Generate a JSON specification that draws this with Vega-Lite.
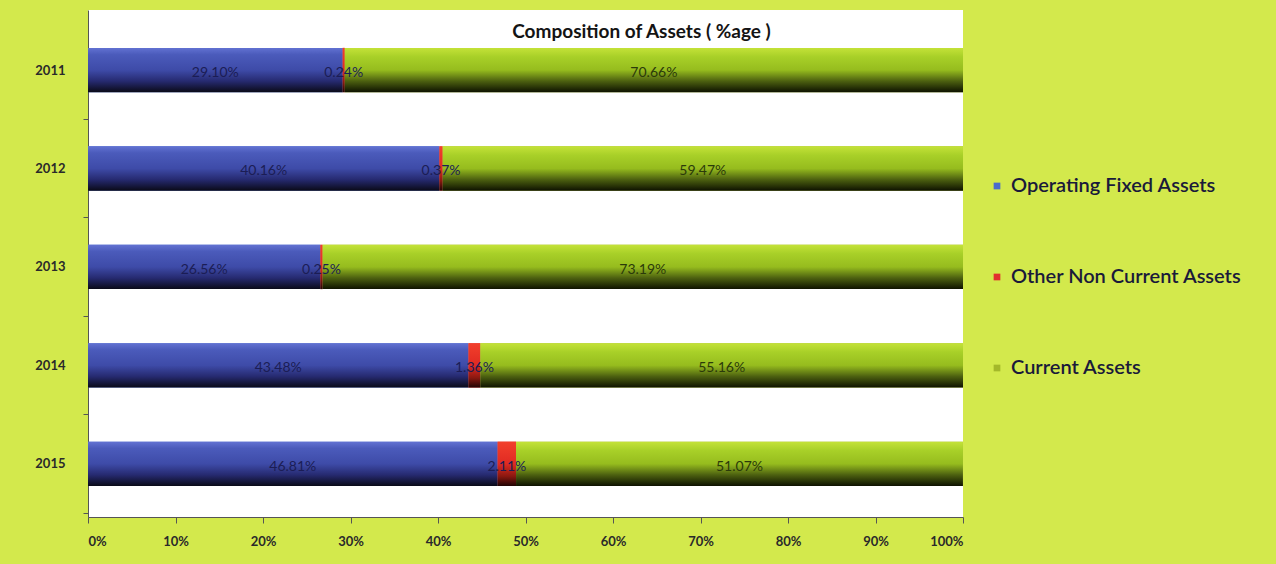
{
  "$schema": "https://vega.github.io/schema/vega-lite/v6.json",
  "width": 875,
  "height": 507,
  "autosize": {"type": "none"},
  "padding": {"left": 88, "top": 10, "right": 313, "bottom": 47},
  "background": "#d3e94c",
  "config": {"view": {"fill": "white", "stroke": null}, "font": "Lato"},
  "title": {
    "text": "Composition of Assets ( %age )",
    "fontSize": 19,
    "font": "Lato",
    "fontWeight": "bold",
    "color": "#141414",
    "anchor": "middle",
    "offset": 0,
    "dx": 116,
    "dy": 32
  },
  "data": {
    "values": [
      {"year": "2011", "series": "Operating Fixed Assets", "order": 1, "value": 29.10},
      {"year": "2011", "series": "Other Non Current Assets", "order": 2, "value": 0.24},
      {"year": "2011", "series": "Current Assets", "order": 3, "value": 70.66},
      {"year": "2012", "series": "Operating Fixed Assets", "order": 1, "value": 40.16},
      {"year": "2012", "series": "Other Non Current Assets", "order": 2, "value": 0.37},
      {"year": "2012", "series": "Current Assets", "order": 3, "value": 59.47},
      {"year": "2013", "series": "Operating Fixed Assets", "order": 1, "value": 26.56},
      {"year": "2013", "series": "Other Non Current Assets", "order": 2, "value": 0.25},
      {"year": "2013", "series": "Current Assets", "order": 3, "value": 73.19},
      {"year": "2014", "series": "Operating Fixed Assets", "order": 1, "value": 43.48},
      {"year": "2014", "series": "Other Non Current Assets", "order": 2, "value": 1.36},
      {"year": "2014", "series": "Current Assets", "order": 3, "value": 55.16},
      {"year": "2015", "series": "Operating Fixed Assets", "order": 1, "value": 46.81},
      {"year": "2015", "series": "Other Non Current Assets", "order": 2, "value": 2.11},
      {"year": "2015", "series": "Current Assets", "order": 3, "value": 51.07}
    ]
  },
  "transform": [
    {"stack": "value", "groupby": ["year"], "sort": [{"field": "order"}], "as": ["x0", "x1"]},
    {"calculate": "(datum.x0 + datum.x1) / 2", "as": "mid"},
    {"calculate": "format(datum.value, '.2f') + '%'", "as": "label"}
  ],
  "encoding": {
    "y": {
      "field": "year",
      "type": "ordinal",
      "scale": {"paddingInner": 0.55, "paddingOuter": 0.35, "align": 0.55},
      "axis": {
        "title": null,
        "labelFontSize": 13,
        "labelFontWeight": "bold",
        "labelColor": "#2a2a2a",
        "labelPadding": 18,
        "tickOffset": 49,
        "labelOffset": -49,
        "tickSize": 5,
        "tickColor": "#555",
        "domainColor": "#555"
      }
    }
  },
  "layer": [
    {
      "mark": {"type": "bar"},
      "encoding": {
        "x": {
          "field": "x0",
          "type": "quantitative",
          "scale": {"domain": [0, 100], "nice": false},
          "axis": {
            "title": null,
            "values": [0, 10, 20, 30, 40, 50, 60, 70, 80, 90, 100],
            "labelExpr": "datum.value + '%'",
            "grid": false,
            "labelFontSize": 13,
            "labelFontWeight": "bold",
            "labelColor": "#2a2a2a",
            "labelPadding": 12,
            "tickSize": 6,
            "tickColor": "#555",
            "domainColor": "#555"
          }
        },
        "x2": {"field": "x1"},
        "color": {
          "field": "series",
          "type": "nominal",
          "scale": {
            "domain": ["Operating Fixed Assets", "Other Non Current Assets", "Current Assets"],
            "range": ["#4a6ccd", "#e2302e", "#a4b82a"]
          },
          "legend": {
            "title": null,
            "orient": "none",
            "legendX": 899,
            "legendY": 166,
            "symbolType": "square",
            "symbolSize": 45,
            "symbolStrokeWidth": 0,
            "labelFontSize": 20,
            "labelFontWeight": 600,
            "labelFont": "Lato",
            "labelColor": "#1a1a3a",
            "labelOffset": 4,
            "rowPadding": 71,
            "labelLimit": 400
          }
        }
      }
    },
    {
      "transform": [{"filter": "datum.series === 'Operating Fixed Assets'"}],
      "mark": {
        "type": "bar",
        "color": {
          "gradient": "linear", "x1": 0, "y1": 0, "x2": 0, "y2": 1,
          "stops": [
            {"offset": 0, "color": "#6272d2"},
            {"offset": 0.15, "color": "#4b5bbb"},
            {"offset": 0.5, "color": "#3e4ba8"},
            {"offset": 0.75, "color": "#262a70"},
            {"offset": 1, "color": "#0a0a18"}
          ]
        }
      },
      "encoding": {
        "x": {"field": "x0", "type": "quantitative"},
        "x2": {"field": "x1"}
      }
    },
    {
      "transform": [{"filter": "datum.series === 'Other Non Current Assets'"}],
      "mark": {
        "type": "bar",
        "color": {
          "gradient": "linear", "x1": 0, "y1": 0, "x2": 0, "y2": 1,
          "stops": [
            {"offset": 0, "color": "#f2402c"},
            {"offset": 0.5, "color": "#e02a22"},
            {"offset": 0.78, "color": "#8a1810"},
            {"offset": 1, "color": "#200404"}
          ]
        }
      },
      "encoding": {
        "x": {"field": "x0", "type": "quantitative"},
        "x2": {"field": "x1"}
      }
    },
    {
      "transform": [{"filter": "datum.series === 'Current Assets'"}],
      "mark": {
        "type": "bar",
        "color": {
          "gradient": "linear", "x1": 0, "y1": 0, "x2": 0, "y2": 1,
          "stops": [
            {"offset": 0, "color": "#c4e238"},
            {"offset": 0.2, "color": "#a8d028"},
            {"offset": 0.5, "color": "#96bc1e"},
            {"offset": 0.75, "color": "#4c6010"},
            {"offset": 1, "color": "#0e1200"}
          ]
        }
      },
      "encoding": {
        "x": {"field": "x0", "type": "quantitative"},
        "x2": {"field": "x1"}
      }
    },
    {
      "mark": {"type": "text", "fontSize": 14, "dy": 3, "font": "Lato"},
      "encoding": {
        "x": {"field": "mid", "type": "quantitative"},
        "text": {"field": "label"},
        "color": {
          "condition": {"test": "datum.series === 'Current Assets'", "value": "#2b3a0a"},
          "value": "#1b1d55"
        }
      }
    }
  ]
}
